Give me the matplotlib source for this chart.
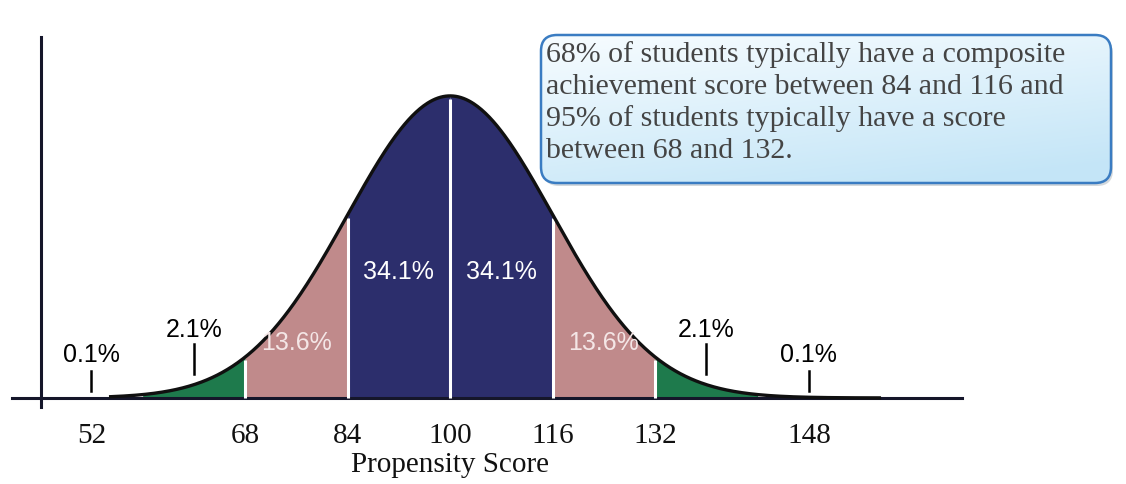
import numpy as np
import matplotlib
matplotlib.use("Agg")
import matplotlib.pyplot as plt
from matplotlib.patches import FancyBboxPatch
from matplotlib import font_manager

# ---------------- data ----------------
mean_score = 100
sd_score = 16
band_edges = [52, 68, 84, 100, 116, 132, 148]
band_colors = ["#1e7a4c", "#c08a8b", "#2c2e6c", "#2c2e6c", "#c08a8b", "#1e7a4c"]
divider_scores = [68, 84, 100, 116, 132]
pct_labels = ["0.1%", "2.1%", "13.6%", "34.1%", "34.1%", "13.6%", "2.1%", "0.1%"]
pct_x = [44, 60, 76, 92, 108, 124, 140, 156]
pct_y = [0.146, 0.228, 0.185, 0.42, 0.42, 0.185, 0.228, 0.146]
pct_colors = ["black", "black", "#f4e6e6", "white", "white", "#f4e6e6", "black", "black"]
marker_x = [44, 60, 140, 156]
marker_lo = [0.023, 0.079, 0.079, 0.023]
marker_hi = [0.089, 0.179, 0.179, 0.089]
tick_pos = [44, 68, 84, 100, 116, 132, 156]
tick_labels = ["52", "68", "84", "100", "116", "132", "148"]
x_title = "Propensity Score"
note_lines = [
    "68% of students typically have a composite",
    "achievement score between 84 and 116 and",
    "95% of students typically have a score",
    "between 68 and 132.",
]

# ---------------- fonts ----------------
names = {f.name for f in font_manager.fontManager.ttflist}
if "Liberation Sans Narrow" in names:
    sans, pct_size = "Liberation Sans Narrow", 20
else:
    sans, pct_size = "Liberation Sans", 18
serif = "Liberation Serif"

W, H = 1126, 485
fig = plt.figure(figsize=(W / 100, H / 100), dpi=100)

# main axes (pixel box: x 12..962, y 38..408)
ax = fig.add_axes([12 / W, (H - 408) / H, (962 - 12) / W, (408 - 38) / H])
ax.set_xlim(31.6, 179.9)
ax.set_ylim(-0.03, 1.195)
for s in ["top", "right"]:
    ax.spines[s].set_visible(False)
ax.spines["left"].set_position(("data", 36.2))
ax.spines["bottom"].set_position(("data", 0))
for s in ["left", "bottom"]:
    ax.spines[s].set_linewidth(2.2)
    ax.spines[s].set_color("#15162a")
ax.set_yticks([])
ax.set_xticks(tick_pos, tick_labels)
ax.tick_params(axis="x", length=0, pad=17, labelsize=21)
for lab in ax.get_xticklabels():
    lab.set_fontfamily(serif)
    lab.set_color("#111111")

def curve(x):
    return np.exp(-0.5 * ((np.asarray(x) - mean_score) / sd_score) ** 2)

# filled bands
for lo, hi, col in zip(band_edges[:-1], band_edges[1:], band_colors):
    xs = np.linspace(lo, hi, 200)
    ax.fill_between(xs, 0, curve(xs), color=col, linewidth=0, zorder=2)

# white dividers
for d in divider_scores:
    ax.plot([d, d], [0, curve(d) - 0.01], color="white", lw=2.2, zorder=3,
            solid_capstyle="butt")

# outline curve
xc = np.linspace(47, 167, 600)
ax.plot(xc, curve(xc), color="#101010", lw=2.4, zorder=4)

# percent labels
for x, y, t, c in zip(pct_x, pct_y, pct_labels, pct_colors):
    ax.text(x, y, t, ha="center", va="center", color=c, fontsize=pct_size,
            family=sans, zorder=5)
for x, lo, hi in zip(marker_x, marker_lo, marker_hi):
    ax.plot([x, x], [lo, hi], color="black", lw=1.8, zorder=5)

# overlay axes in pixel coordinates for the note box and axis title
ov = fig.add_axes([0, 0, 1, 1], zorder=10)
ov.set_xlim(0, W)
ov.set_ylim(H, 0)
ov.axis("off")
ov.patch.set_alpha(0)

ov.text(450, 465, x_title, ha="center", va="center", fontsize=21,
        family=serif, color="#111111")

bx0, by0, bw, bh = 541, 36, 570, 148
shadow = FancyBboxPatch((bx0 + 2, by0 + 3), bw, bh,
                        boxstyle="round,pad=0,rounding_size=16",
                        fc="#a8b2ba", ec="none", alpha=0.5)
ov.add_patch(shadow)
box = FancyBboxPatch((bx0, by0), bw, bh, boxstyle="round,pad=0,rounding_size=16",
                     fc="none", ec="#3a7cc2", lw=1.8, zorder=3)
grad_patch = FancyBboxPatch((bx0, by0), bw, bh, boxstyle="round,pad=0,rounding_size=16",
                            fc="none", ec="none")
ov.add_patch(grad_patch)
gy, gx = np.mgrid[0:1:100j, 0:1:200j]
t = np.clip(0.75 * gy + 0.35 * gx, 0, 1)
top = np.array([0.97, 0.99, 1.0])
bot = np.array([0.77, 0.90, 0.97])
img = top[None, None, :] * (1 - t[..., None]) + bot[None, None, :] * t[..., None]
im = ov.imshow(img, extent=(bx0, bx0 + bw, by0 + bh, by0), zorder=2,
               interpolation="bilinear", aspect="auto")
im.set_clip_path(grad_patch)
ov.add_patch(box)
ov.set_xlim(0, W)
ov.set_ylim(H, 0)

for i, line in enumerate(note_lines):
    ov.text(546, 62 + i * 32, line, ha="left", va="baseline", fontsize=21.5,
            family=serif, color="#444444", zorder=4)

fig.savefig("out.png", dpi=100)
